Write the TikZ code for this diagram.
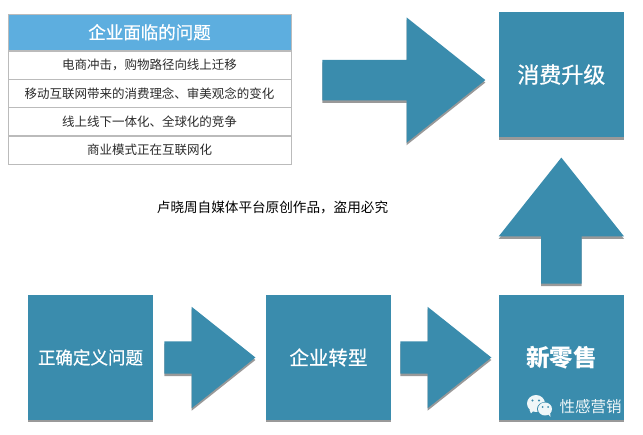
\documentclass[tikz,border=0pt]{standalone}
\usepackage{fontspec}
\setmainfont{Noto Sans CJK SC}
\newfontfamily\boxfont[FakeBold=0.7]{Noto Sans CJK SC}
\usepackage{xcolor}
\usetikzlibrary{shapes.arrows, positioning, shadows}
\definecolor{boxblue}{HTML}{3A8CAD}
\definecolor{headblue}{HTML}{5DAEDF}
\definecolor{rowgray}{HTML}{BBBBBB}
\definecolor{rowtext}{HTML}{2A2A2A}

\begin{document}
\begin{tikzpicture}[x=1pt, y=1pt, bignode/.style={rectangle, fill=boxblue, text=white, inner sep=0pt, minimum size=125pt, drop shadow={shadow xshift=0pt, shadow yshift=-2.5pt, fill=black, opacity=0.4}}, headnode/.style={rectangle, draw=rowgray, fill=headblue, text=white, inner sep=0pt, minimum width=283pt, minimum height=36.5pt, font=\boxfont\fontsize{17.5}{20}\selectfont}, rownode/.style={rectangle, draw=rowgray, text=rowtext, inner sep=0pt, minimum width=283pt, minimum height=28pt, font=\fontsize{12.5}{15}\selectfont}, bigarrow/.style={single arrow, fill=boxblue, inner sep=20pt, single arrow head extend=42.5pt, single arrow tip angle=77, minimum width=125pt, drop shadow={shadow xshift=0pt, shadow yshift=-2.5pt, fill=black, opacity=0.4}}, smallarrow/.style={single arrow, fill=boxblue, inner sep=16pt, single arrow head extend=34.5pt, single arrow tip angle=77, minimum width=101pt, minimum height=91pt, drop shadow={shadow xshift=0pt, shadow yshift=-2.5pt, fill=black, opacity=0.4}}]
    \useasboundingbox (0,0) rectangle (643,-435);

    %Nodes
    \node[headnode](problems) at (149.5,-32.25){企业面临的问题};
    \node[rownode](row_one)[below=0pt of problems]{电商冲击，购物路径向线上迁移};
    \node[rownode](row_two)[below=0pt of row_one]{移动互联网带来的消费理念、审美观念的变化};
    \node[rownode](row_three)[below=0pt of row_two]{线上线下一体化、全球化的竞争};
    \node[rownode](row_four)[below=0pt of row_three]{商业模式正在互联网化};
    \node[inner sep=0pt, text=black, font=\fontsize{13.6}{16}\selectfont](notice) at (272.5,-207){卢晓周自媒体平台原创作品，盗用必究};

    \node[bignode, font=\boxfont\fontsize{17.5}{20}\selectfont](define) at (90.5,-357.5){正确定义问题};
    \node[smallarrow](arrow_one)[right=11pt of define]{};
    \node[bignode, font=\boxfont\fontsize{19.5}{22}\selectfont](transform)[right=10pt of arrow_one]{企业转型};
    \node[smallarrow](arrow_two)[right=9pt of transform]{};
    \node[bignode, font=\bfseries\fontsize{23.5}{26}\selectfont](newretail)[right=7pt of arrow_two]{新零售};
    \node[bigarrow, minimum height=126pt, shape border rotate=90](arrow_up)[above=11pt of newretail]{};
    \node[bignode, font=\boxfont\fontsize{22}{25}\selectfont](upgrade)[above=20pt of arrow_up]{消费升级};
    \node[bigarrow, minimum height=163pt](arrow_top)[left=13pt of upgrade, yshift=-5.5pt]{};
    \node[inner sep=0pt, text=white!92!boxblue, font=\fontsize{15.5}{18}\selectfont](brand) at (590.5,-407){性感营销};

    %Icon
    \fill[white!92!boxblue] (536,-403.5) ellipse (9pt and 8.5pt);
    \fill[white!92!boxblue] (529.5,-410) -- (531,-413.5) -- (534,-410) -- cycle;
    \fill[boxblue] (545,-409) ellipse (8pt and 7pt);
    \fill[white!92!boxblue] (545,-409) ellipse (7pt and 6.5pt);
    \fill[white!92!boxblue] (548,-414) -- (550.5,-417) -- (550,-412) -- cycle;
    \fill[boxblue] (532.5,-400.5) circle (1.2pt) (539,-400.5) circle (1.2pt) (542.5,-407) circle (1pt) (548,-407) circle (1pt);

\end{tikzpicture}
\end{document}
